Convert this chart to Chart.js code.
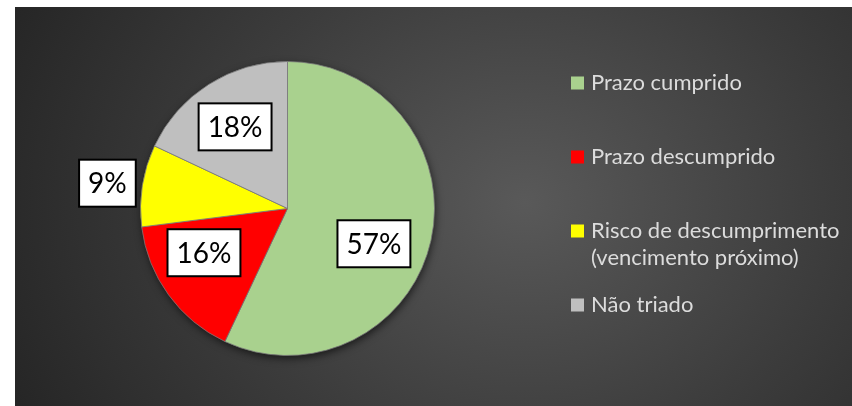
<!DOCTYPE html>
<html>
<head>
<meta charset="utf-8">
<script src="https://cdn.jsdelivr.net/npm/chart.js@4/dist/chart.umd.min.js"></script>
<style>
  html, body { margin: 0; padding: 0; background: #ffffff; }
  #wrap {
    position: absolute; left: 15px; top: 7px; width: 837px; height: 399px;
    background: radial-gradient(ellipse 560px 470px at 510px 195px, #595959 0%, #3c3c3c 55%, #262626 100%);
  }
</style>
</head>
<body>
<div id="wrap"><canvas id="c"></canvas></div>
<script>
// ---- data ----
const categories = [
  ['Prazo cumprido'],
  ['Prazo descumprido'],
  ['Risco de descumprimento', '(vencimento próximo)'],
  ['Não triado']
];
const values = [57, 16, 9, 18];
const colors = ['#a9d18e', '#ff0000', '#ffff00', '#bfbfbf'];

// label placement: fraction of radius and angle shift (degrees)
const labelPlacement = [
  { r: 0.635, da: 9.6 },
  { r: 0.643, da: 8.1 },
  { r: 1.237, da: -1.0 },
  { r: 0.66,  da: -0.3 }
];

const shadowPlugin = {
  id: 'pieShadow',
  beforeDatasetsDraw(chart) {
    const arc = chart.getDatasetMeta(0).data[0];
    if (!arc) return;
    const ctx = chart.ctx;
    ctx.save();
    ctx.shadowColor = 'rgba(0,0,0,0.65)';
    ctx.shadowBlur = 9;
    ctx.shadowOffsetX = 1;
    ctx.shadowOffsetY = 3;
    ctx.fillStyle = '#3a3a3a';
    ctx.beginPath();
    ctx.arc(arc.x, arc.y, arc.outerRadius - 0.5, 0, Math.PI * 2);
    ctx.fill();
    ctx.restore();
  }
};

const dataLabelPlugin = {
  id: 'boxLabels',
  afterDatasetsDraw(chart) {
    const ctx = chart.ctx;
    const meta = chart.getDatasetMeta(0);
    const ds = chart.data.datasets[0].data;
    const total = ds.reduce((a, b) => a + b, 0);
    ctx.save();
    ctx.font = '28px Lato';
    ctx.textAlign = 'center';
    ctx.textBaseline = 'middle';
    meta.data.forEach((arc, i) => {
      const p = labelPlacement[i];
      const mid = (arc.startAngle + arc.endAngle) / 2 + p.da * Math.PI / 180;
      const r = arc.outerRadius * p.r;
      const cx = arc.x + Math.cos(mid) * r;
      const cy = arc.y + Math.sin(mid) * r;
      const txt = Math.round(ds[i] / total * 100) + '%';
      const w = ctx.measureText(txt).width + 18;
      const h = 47;
      ctx.fillStyle = '#ffffff';
      ctx.fillRect(cx - w / 2, cy - h / 2, w, h);
      ctx.lineWidth = 2;
      ctx.strokeStyle = '#000000';
      ctx.strokeRect(cx - w / 2, cy - h / 2, w, h);
      ctx.fillStyle = '#000000';
      ctx.fillText(txt, cx, cy + 1);
    });
    ctx.restore();
  }
};

const legendPlugin = {
  id: 'sideLegend',
  afterDraw(chart) {
    const o = chart.options.plugins.sideLegend;
    const ctx = chart.ctx;
    const labels = chart.data.labels;
    const bg = chart.data.datasets[0].backgroundColor;
    ctx.save();
    ctx.font = o.font;
    ctx.textBaseline = 'middle';
    ctx.textAlign = 'left';
    labels.forEach((lines, i) => {
      const y = o.y + i * o.step;
      ctx.fillStyle = bg[i];
      ctx.fillRect(o.x, y - o.box / 2, o.box, o.box);
      ctx.fillStyle = o.color;
      lines.forEach((ln, k) => ctx.fillText(ln, o.x + o.box + 7, y + k * o.lineHeight));
    });
    ctx.restore();
  }
};

new Chart(document.getElementById('c'), {
  type: 'pie',
  data: {
    labels: categories,
    datasets: [{
      data: values,
      backgroundColor: colors,
      borderColor: 'rgba(120,120,120,0.8)',
      borderWidth: 1
    }]
  },
  options: {
    responsive: true,
    maintainAspectRatio: false,
    animation: false,
    layout: { padding: { left: 125, right: 417, top: 54, bottom: 50 } },
    plugins: {
      legend: { display: false },
      tooltip: { enabled: false },
      sideLegend: { x: 556, y: 76, step: 74, lineHeight: 27, box: 13, font: '22px Lato', color: '#dcdcdc' }
    }
  },
  plugins: [shadowPlugin, dataLabelPlugin, legendPlugin]
});
</script>
</body>
</html>
